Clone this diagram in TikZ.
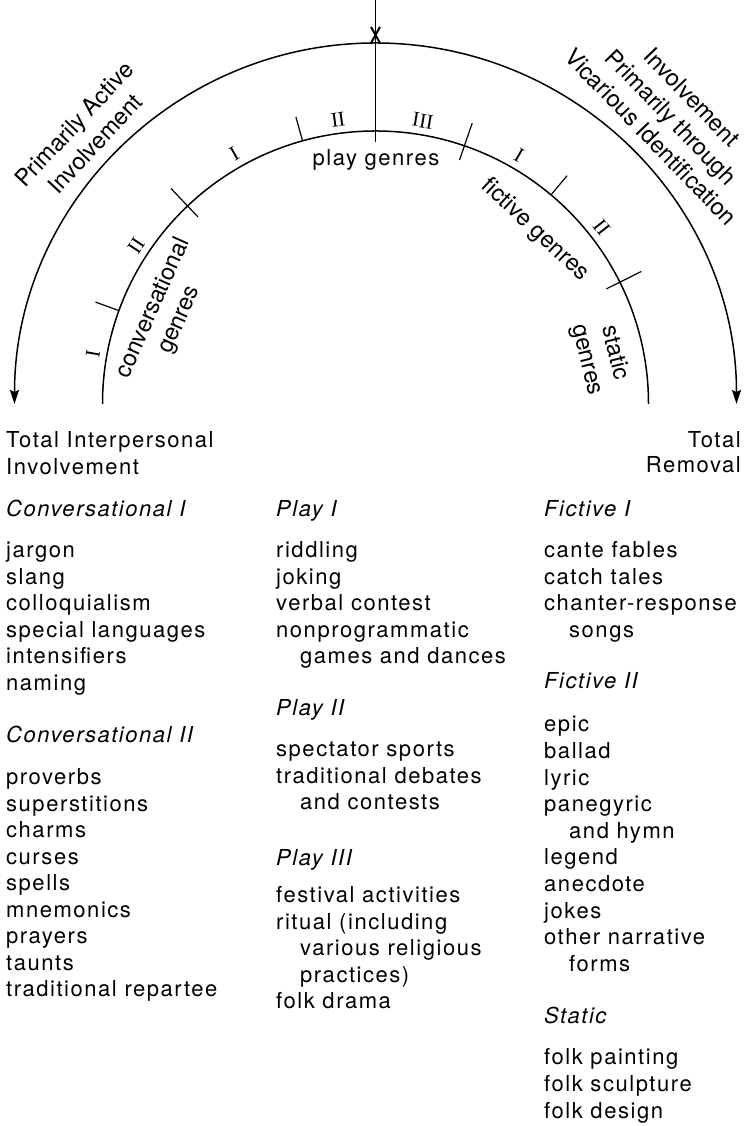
\documentclass[tikz,border=0pt]{standalone}
\usepackage{fontspec}
\setmainfont{TeX Gyre Heros}[LetterSpace=7]
\newfontfamily\rotfont{TeX Gyre Heros}
\newfontfamily\romfont{Liberation Serif}
\usetikzlibrary{arrows.meta}
\begin{document}
\begin{tikzpicture}[x=1pt,y=1pt,
  every node/.style={inner sep=0pt, font=\fontsize{22}{26.5}\selectfont},
  item/.style={anchor=base west},
  itemr/.style={anchor=base east},
  head/.style={anchor=base west, font=\fontsize{22}{26.5}\selectfont\itshape},
  rom/.style={font=\fontsize{21}{21}\selectfont\romfont},
  lbl/.style={align=center, font=\fontsize{23.5}{28.5}\selectfont\rotfont},
  arcline/.style={line width=1.5pt},
  tickline/.style={line width=1.2pt},
  tip/.style={-{Stealth[length=14pt,width=9pt,inset=2pt]}}]
\useasboundingbox (0,0) rectangle (745,1126);
\fill[white] (0,0) rectangle (745,1126);
\coordinate (C) at (375.5,722);
\begin{scope}[shift={(C)}]
  % arcs
  \coordinate (top) at (90:361);
  \draw[arcline,tip] (top) arc (90:180:361);
  \draw[arcline,tip] (top) arc (90:0:361);
  \draw[arcline] (180:273) arc (180:0:273);
  % vertical line and mark
  \coordinate (vtop) at (0,404);
  \coordinate (vbot) at (90:262);
  \draw[tickline] (vtop) -- (vbot);
  \draw[line width=2pt] (-4.5,377) -- (4.5,361) (4.5,377) -- (-4.5,361);
  % ticks
  \foreach \a in {133.5,71,26.5} \draw[tickline] (\a:258) -- (\a:297);
  \foreach \a in {160,105.5,50} \draw[tickline] (\a:273) -- (\a:298);
  % roman numerals
  \node[rom,rotate=80]   (r1) at (170:287)   {I};
  \node[rom,rotate=56.5] (r2) at (146.5:287) {II};
  \node[rom,rotate=29.5] (r3) at (119.5:287) {I};
  \node[rom,rotate=7.5]  (r4) at (97.5:287)  {II};
  \node[rom,rotate=-9.5] (r5) at (80.5:287)  {III};
  \node[rom,rotate=-30]  (r6) at (60:287)    {I};
  \node[rom,rotate=-52]  (r7) at (38:287)    {II};
  % inner labels
  \node[lbl,rotate=66]  (conv) at (-209,90) {conversational\\genres};
  \node[anchor=base]    (play) at (0.5,238) {play genres};
  \node[lbl,rotate=-43] (fict) at (159.5,174) {fictive genres};
  \node[lbl,rotate=-76] (stat) at (225,47.5) {static\\genres};
  % outer labels
  \node[lbl,rotate=47]  (act) at (-291,270) {Primarily Active\\Involvement};
  \node[lbl,rotate=-46] (vic) at (296,287) {Involvement\\Primarily through\\Vicarious Identification};
\end{scope}
% ---- left column
\node[item] (tip1) at (6,1126-448) {Total Interpersonal};
\node[item] (tip2) at (6,1126-474.5) {Involvement};
\node[head] (c1h) at (6,1126-517) {Conversational I};
\foreach \t [count=\i from 0] in {jargon,slang,colloquialism,special languages,intensifiers,naming}
  \node[item] (c1-\i) at (6,1126-558-26.5*\i) {\t};
\node[head] (c2h) at (6,1126-743) {Conversational II};
\foreach \t [count=\i from 0] in {proverbs,superstitions,charms,curses,spells,mnemonics,prayers,taunts,traditional repartee}
  \node[item] (c2-\i) at (6,1126-785-26.5*\i) {\t};
% ---- middle column
\node[head] (p1h) at (276,1126-517) {Play I};
\foreach \t [count=\i from 0] in {riddling,joking,verbal contest,nonprogrammatic}
  \node[item] (p1-\i) at (276,1126-558-26.5*\i) {\t};
\node[item] (p1-4) at (300,1126-664) {games and dances};
\node[head] (p2h) at (276,1126-716) {Play II};
\node[item] (p2-0) at (276,1126-757) {spectator sports};
\node[item] (p2-1) at (276,1126-783.5) {traditional debates};
\node[item] (p2-2) at (300,1126-810) {and contests};
\node[head] (p3h) at (276,1126-866) {Play III};
\node[item] (p3-0) at (276,1126-903) {festival activities};
\node[item] (p3-1) at (276,1126-929.5) {ritual (including};
\node[item] (p3-2) at (300,1126-956) {various religious};
\node[item] (p3-3) at (300,1126-982.5) {practices)};
\node[item] (p3-4) at (276,1126-1009) {folk drama};
% ---- right column
\node[itemr] (tr1) at (741,1126-448) {Total};
\node[itemr] (tr2) at (741,1126-473) {Removal};
\node[head] (f1h) at (544,1126-517) {Fictive I};
\node[item] (f1-0) at (544,1126-558) {cante fables};
\node[item] (f1-1) at (544,1126-584.5) {catch tales};
\node[item] (f1-2) at (544,1126-611) {chanter-response};
\node[item] (f1-3) at (569,1126-637.5) {songs};
\node[head] (f2h) at (544,1126-689) {Fictive II};
\node[item] (f2-0) at (544,1126-732) {epic};
\node[item] (f2-1) at (544,1126-758.6) {ballad};
\node[item] (f2-2) at (544,1126-785.2) {lyric};
\node[item] (f2-3) at (544,1126-811.8) {panegyric};
\node[item] (f2-4) at (569,1126-838.4) {and hymn};
\node[item] (f2-5) at (544,1126-865) {legend};
\node[item] (f2-6) at (544,1126-891.6) {anecdote};
\node[item] (f2-7) at (544,1126-918.2) {jokes};
\node[item] (f2-8) at (544,1126-944.8) {other narrative};
\node[item] (f2-9) at (569,1126-971.4) {forms};
\node[head] (sh) at (544,1126-1024) {Static};
\foreach \t [count=\i from 0] in {folk painting,folk sculpture,folk design}
  \node[item] (s-\i) at (544,1126-1065-26.5*\i) {\t};
\end{tikzpicture}
\end{document}
